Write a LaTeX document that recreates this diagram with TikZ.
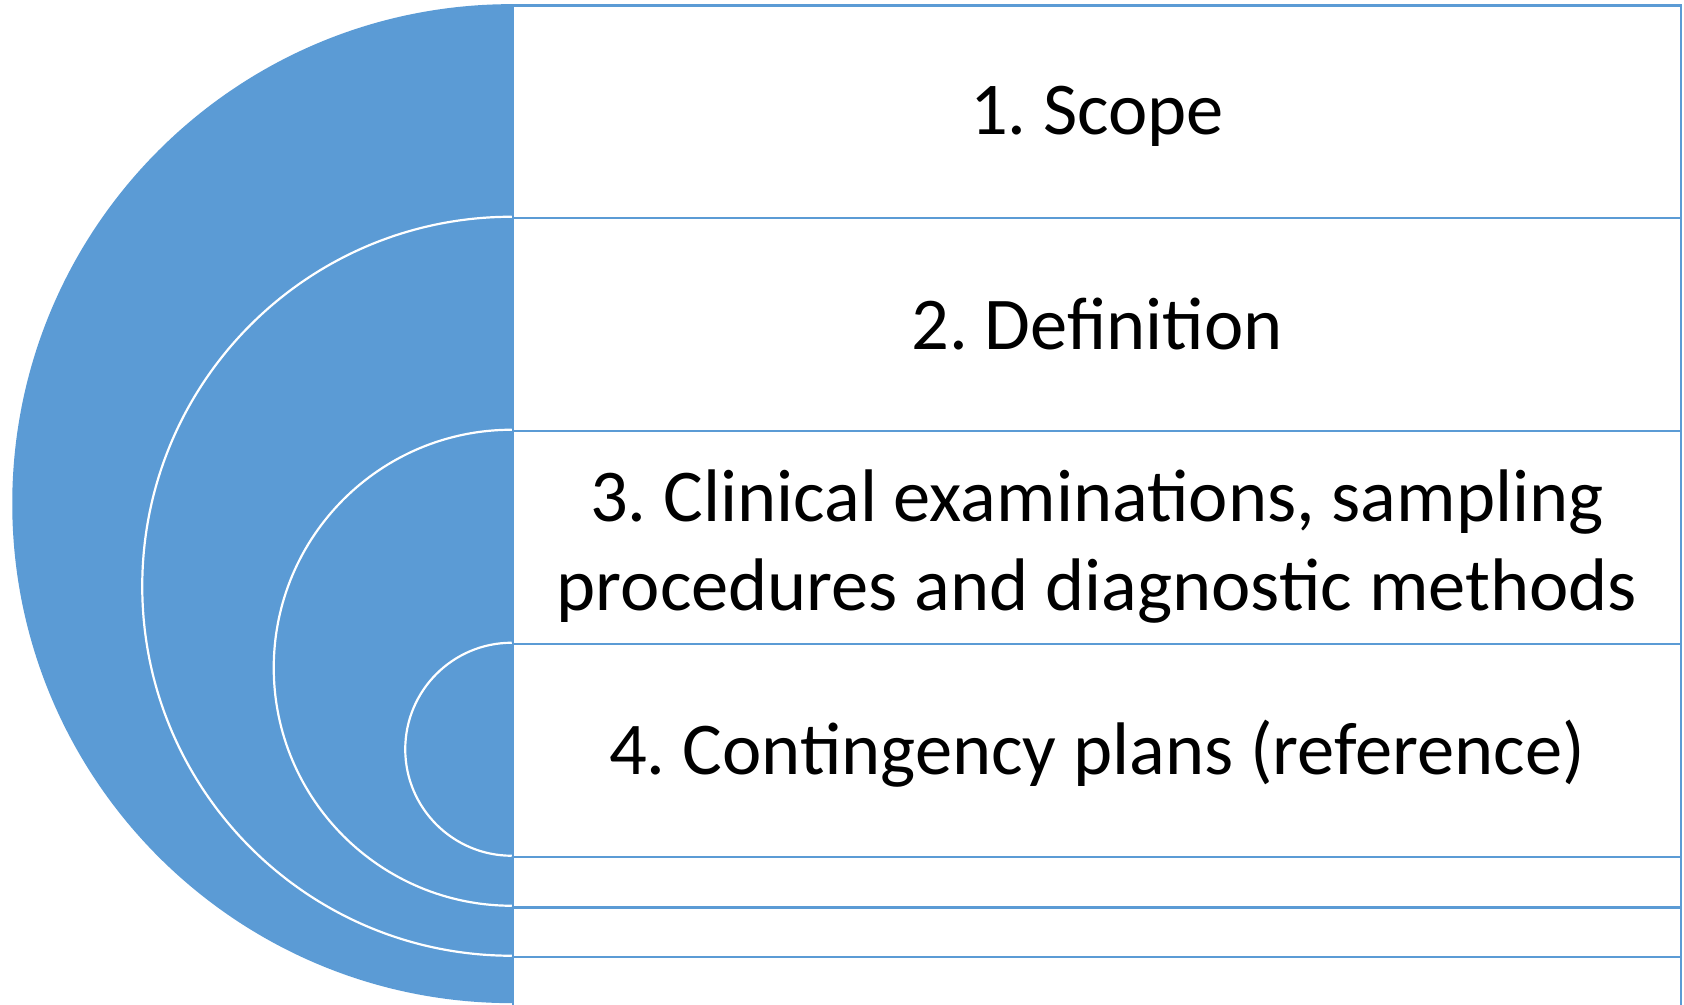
\documentclass[tikz,border=0pt]{standalone}
\usepackage{fontspec}
\setmainfont{Carlito}
\frenchspacing
\usetikzlibrary{backgrounds}
\definecolor{sblue}{HTML}{5B9BD5}
\begin{document}
\begin{tikzpicture}[x=1pt,y=1pt,
  rowbox/.style={draw=sblue, line width=2.5pt, fill=white, minimum width=1168pt,
    inner sep=0pt},
  label/.style={inner sep=0pt, align=center, text=black, font=\fontsize{74.5}{89}\selectfont},
  ring/.style={draw=white, line width=2.2pt}]
\useasboundingbox (0,0) rectangle (1684,1004);
\clip (0,0) rectangle (1684,1004);
\node[rowbox, minimum height=212.6pt] (r1) at (1097,892.3) {};
\node[rowbox, minimum height=213pt] (r2) at (1097,679.5) {};
\node[rowbox, minimum height=213pt] (r3) at (1097,466.5) {};
\node[rowbox, minimum height=213pt] (r4) at (1097,253.5) {};
\node[rowbox, minimum height=50.5pt] (r5) at (1097,121.75) {};
\node[rowbox, minimum height=49.5pt] (r6) at (1097,71.75) {};
\node[rowbox, minimum height=107pt] (r7) at (1097,-6.5) {};
\node[label] (t1) at ([yshift=-5pt]r1.center) {1. Scope};
\node[label] (t2) at (r2.center) {2. Definition};
\node[label] (t3) at ([yshift=-9pt]r3.center) {3. Clinical examinations, sampling\\procedures and diagnostic methods};
\node[label] (t4) at ([yshift=-3pt]r4.center) {4. Contingency plans (reference)};
\begin{pgfonlayer}{background}
\fill[sblue] (r1.north west) arc[start angle=90, end angle=270, radius=499.5] -- cycle;
\draw[ring] (r2.north west) arc[start angle=90, end angle=270, radius=369.5];
\draw[ring] (r3.north west) arc[start angle=90, end angle=270, radius=238];
\draw[ring] (r4.north west) arc[start angle=90, end angle=270, radius=106.5];
\end{pgfonlayer}
\end{tikzpicture}
\end{document}
